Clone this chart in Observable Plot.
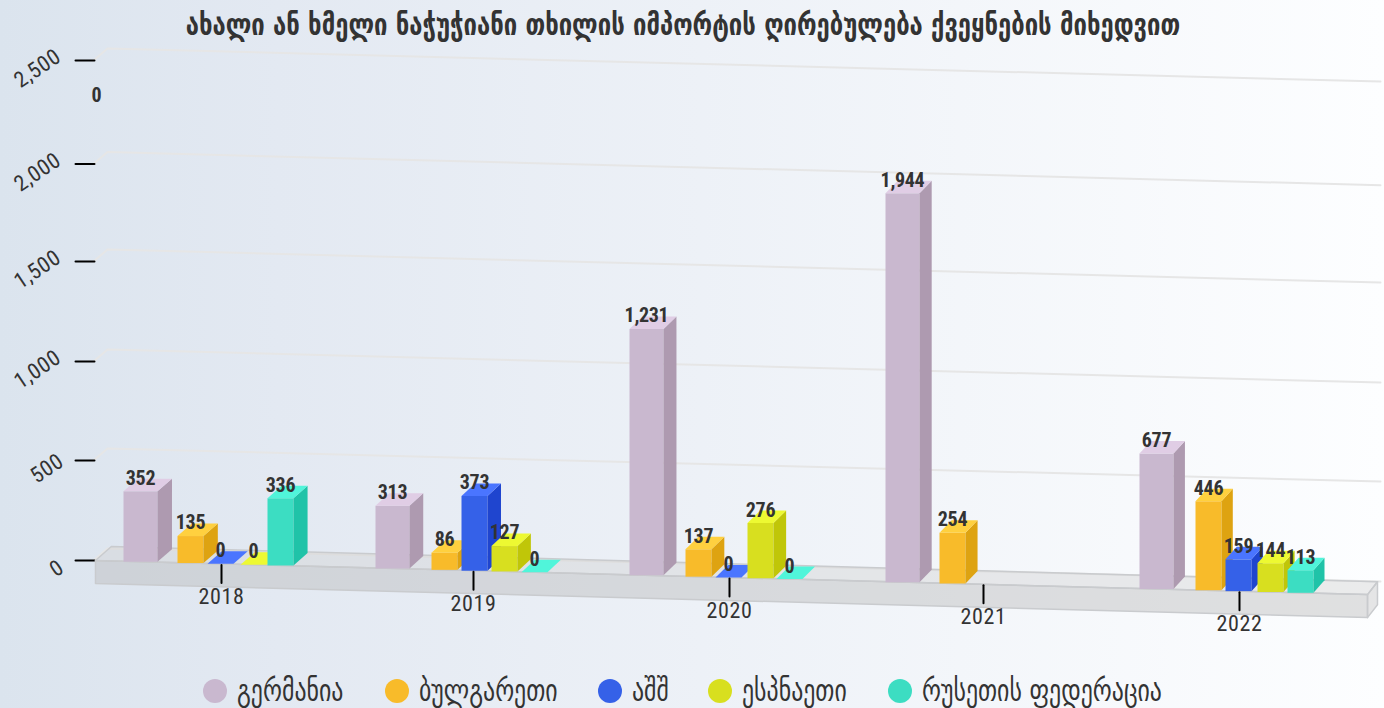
<!DOCTYPE html>
<html>
<head>
<meta charset="utf-8">
<script src="https://cdn.jsdelivr.net/npm/d3@7"></script>
<script src="https://cdn.jsdelivr.net/npm/@observablehq/plot@0.6"></script>
<style>
html,body{margin:0;padding:0}
body{width:1384px;height:708px;overflow:hidden;position:relative;background:linear-gradient(90deg,#dbe4ee 0%,#e3e9f2 20%,#fdfeff 100%);color:#333}
#title{position:absolute;left:0;top:7px;width:1366px;text-align:center;font:bold 30px "DejaVu Sans Condensed","DejaVu Sans",sans-serif;line-height:36px;white-space:nowrap;transform:scaleX(.883);transform-origin:683px 0}
#chart{position:absolute;left:0;top:42px}
#legend{position:absolute;left:203px;top:675px;display:flex;gap:41px;font:30px "DejaVu Sans Condensed","DejaVu Sans",sans-serif;line-height:32px;white-space:nowrap}
#legend div{display:flex;align-items:center;gap:10px}
#legend div:nth-child(3){margin-right:-3px}
#legend i{display:block;width:24px;height:24px;border-radius:50%}
#legend span{display:block;transform-origin:0 50%;transform:scaleX(.883)}
svg{overflow:visible;background:transparent!important}
.narrow text{font-stretch:75%;letter-spacing:.6px}
.datalabel text{font-stretch:75%;letter-spacing:-.3px}
</style>
</head>
<body>
<div id="title"></div>
<div id="chart"></div>
<div id="legend"></div>
<script>
const chartTitle = "ახალი ან ხმელი ნაჭუჭიანი თხილის იმპორტის ღირებულება ქვეყნების მიხედვით";
const years = [2018, 2019, 2020, 2021, 2022];
const seriesNames = ["გერმანია", "ბულგარეთი", "აშშ", "ესპნაეთი", "რუსეთის ფედერაცია"];
const germany  = [352, 313, 1231, 1944, 677];
const bulgaria = [135, 86, 137, 254, 446];
const usa      = [0, 373, 0, null, 159];
const spain    = [0, 127, 276, null, 144];
const russia   = [336, 0, 0, null, 113];
const seriesValues = [germany, bulgaria, usa, spain, russia];
const valueTicks = [0, 500, 1000, 1500, 2000, 2500];

// styling and layout, separate from the data
const frontColors = ["#c9b8cf", "#f8bb2a", "#3561e8", "#d8df1f", "#3cddc2"];
const topColors   = ["#e0cde5", "#ffd03f", "#4a75ff", "#edf932", "#50f5da"];
const sideColors  = ["#ae9ab0", "#dea311", "#1f45cf", "#c0c608", "#20c3a8"];
const slotLeft  = [-99, -44, -14, 18, 48];
const slotWidth = [34, 26, 26, 26, 26];
const slotNudge = [[1,0,0,1,-2],[1,2,2,0,0],[-1,0,0,0,-1],[1,0,0,0,0],[-1,0,0,0,0]];
const tickDrift = [0, 0, -5, -5, -18, 0];
const categoryX = d3.scaleLinear().domain(years).range([221, 473, 729, 983, 1239]);

const W = 1384, H = 624, K = 0.2, SLOPE = 0.0268, LEFT = 95;
const dxAt = x => 14.5 - 0.003 * (x - 150);
const tilt = x => SLOPE * (x - LEFT) / K;           // slope of the floor, in value units
const P = (x, v, depth = 0, ref = x, dzy = 12.5) => ({
  x: x + depth * dxAt(x),
  y: v - tilt(ref) + depth * dzy / K
});

// bars -> faces
const faces = [], labels = [];
years.forEach((yr, c) => {
  seriesValues.forEach((vals, s) => {
    const v = vals[c];
    if (v === null) return;
    const x0 = categoryX(yr) + slotLeft[s] + slotNudge[c][s], x1 = x0 + slotWidth[s], m = (x0 + x1) / 2;
    const add = (id, fill, pts) => pts.forEach(p => faces.push({id: `${c}-${s}-${id}`, fill, ...p}));
    if (v > 0) {
      add("f", frontColors[s], [P(x0,0,0,m), P(x1,0,0,m), P(x1,v,0,m), P(x0,v,0,m)]);
      add("s", sideColors[s], [P(x1,0,0,m), P(x1,0,1,m), P(x1,v,1,m), P(x1,v,0,m)]);
    }
    add("t", topColors[s], [P(x0,v,0,m), P(x1,v,0,m), P(x1,v,1,m), P(x0,v,1,m)]);
    labels.push({...P(m, v, 0, m), text: d3.format(",")(v)});
  });
});
// the single stray label of the reference, left of the axis
const strayLabel = [{x: 96, y: 2260, text: "0"}];

// floor
const FL = 1367, TH = -115, DF = 1.08;
const floor = [];
const addFloor = (id, fill, pts) => [...pts, pts[0]].forEach(p => floor.push({id, fill, ...p}));
addFloor("top", "#d1d1d1", [P(LEFT,0), P(FL,0), P(FL,0,.92,FL,14), P(LEFT,0,DF,LEFT,13)]);
addFloor("front", "#b7b7b7", [P(LEFT,0), P(FL,0), P(FL,TH), P(LEFT,TH)]);
addFloor("side", "#c4c4c4", [P(FL,0), P(FL,0,.92,FL,14), P(FL,TH,.92,FL,14), P(FL,TH)]);

// slanted grid
const grid = valueTicks.flatMap((t, i) => {
  const v = t + tickDrift[i];
  const r = 0.026 / K;
  return [
    {id: t, x: 93, y: v},
    {id: t, x: 107, y: v + 12 / K},
    {id: t, x: 1380, y: v + 12 / K - r * (1380 - 107)}
  ];
});
const axisTicks = valueTicks.flatMap((t, i) => [
  {id: t, x: 75, y: t + tickDrift[i]},
  {id: t, x: 94, y: t + tickDrift[i]}
]);
const axisLabels = valueTicks.map((t, i) => {
  const text = d3.format(",")(t);
  return {x: 61 - 4.8 * text.length, y: t + tickDrift[i], text};
});
const yearTicks = years.flatMap(yr => {
  const x = categoryX(yr);
  return [{id: yr, x, y: -tilt(x) - 1 / K}, {id: yr, x, y: -tilt(x) - 19 / K}];
});
const yearLabels = years.map(yr => {
  const x = categoryX(yr);
  return {x, y: -tilt(x), text: String(yr)};
});

const plot = Plot.plot({
  width: W, height: H,
  marginTop: 0, marginRight: 0, marginBottom: 0, marginLeft: 0,
  x: {domain: [0, W], range: [0, W], axis: null},
  y: {domain: [-530, 2590], range: [H, 0], axis: null},
  color: {type: "identity"},
  style: {background: "transparent", overflow: "visible"},
  marks: [
    Plot.line(grid, {x: "x", y: "y", z: "id", stroke: "#e6e6e6", strokeWidth: 2}),
    Plot.line(axisTicks, {x: "x", y: "y", z: "id", stroke: "#000", strokeWidth: 2}),
    Plot.text(axisLabels, {x: "x", y: "y", text: "text", dy: 8, rotate: -34, fontSize: 22, fontFamily: "Roboto", fill: "#333", className: "narrow"}),
    Plot.line(floor, {x: "x", y: "y", z: "id", fill: "fill", fillOpacity: 0.42, stroke: "#c9cbce", strokeWidth: 1.5}),
    Plot.line(faces, {x: "x", y: "y", z: "id", fill: "fill", stroke: "none"}),
    Plot.line(yearTicks, {x: "x", y: "y", z: "id", stroke: "#000", strokeWidth: 2}),
    Plot.text(yearLabels, {x: "x", y: "y", text: "text", dy: 33, fontSize: 22, fontFamily: "Roboto", fill: "#333", className: "narrow"}),
    Plot.text(labels.concat(strayLabel), {x: "x", y: "y", text: "text", dy: -13, fontSize: 20, fontWeight: 700, fontFamily: "Roboto", fill: "#333", className: "datalabel"})
  ]
});
document.getElementById("chart").append(plot);
document.getElementById("title").textContent = chartTitle;
const legend = document.getElementById("legend");
const spans = seriesNames.map((n, i) => {
  const d = document.createElement("div");
  const dot = document.createElement("i");
  dot.style.background = frontColors[i];
  const t = document.createElement("span");
  t.textContent = n;
  d.append(dot, t);
  legend.append(d);
  return t;
});
// the transform does not shrink the layout box, so the box is set to the drawn width
spans.forEach(t => { t.style.width = t.offsetWidth * 0.883 + "px"; });
</script>
</body>
</html>
